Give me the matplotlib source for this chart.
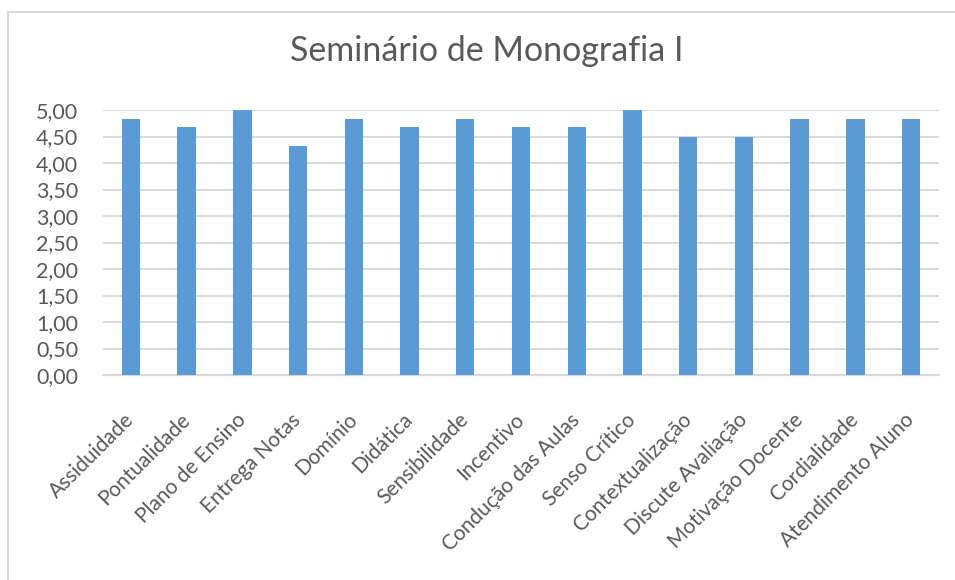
import matplotlib
matplotlib.use("Agg")
import matplotlib.pyplot as plt
from matplotlib.patches import Rectangle
from matplotlib.ticker import FuncFormatter

categorias = ["Assiduidade", "Pontualidade", "Plano de Ensino", "Entrega Notas",
              "Domínio", "Didática", "Sensibilidade", "Incentivo",
              "Condução das Aulas", "Senso Crítico", "Contextualização",
              "Discute Avaliação", "Motivação Docente", "Cordialidade",
              "Atendimento Aluno"]
medias = [4.83, 4.67, 5.00, 4.33, 4.83, 4.67, 4.83, 4.67,
          4.67, 5.00, 4.50, 4.50, 4.83, 4.83, 4.83]
y_ticks = [0.0, 0.5, 1.0, 1.5, 2.0, 2.5, 3.0, 3.5, 4.0, 4.5, 5.0]

plt.rcParams["font.family"] = ["Lato", "DejaVu Sans"]
texto = "#595959"
grade = "#D9D9D9"

fig = plt.figure(figsize=(9.55, 5.8), dpi=100)

# moldura do gráfico (só aparecem as bordas superior e esquerda)
fig.patches.append(Rectangle((8 / 955, -0.05), 1.1, 1 - 12 / 580 + 0.05,
                             transform=fig.transFigure, fill=False,
                             edgecolor=grade, linewidth=1.5))

ax = fig.add_axes([103 / 955, 1 - 375 / 580, 836 / 955, 265 / 580])
x = range(len(categorias))
ax.bar(x, medias, width=0.33, color="#5B9BD5", zorder=3)

ax.set_xlim(-0.5, len(categorias) - 0.5)
ax.set_ylim(0, 5)
ax.set_yticks(y_ticks)
ax.yaxis.set_major_formatter(FuncFormatter(lambda v, p: f"{v:.2f}".replace(".", ",")))
ax.grid(axis="y", color=grade, linewidth=1.4, zorder=0)
ax.tick_params(axis="y", length=0, labelsize=15.5, labelcolor=texto, pad=18)
ax.tick_params(axis="x", length=0, labelsize=15, labelcolor=texto, pad=30)

ax.set_xticks(list(x))
ax.set_xticklabels(categorias, rotation=45, ha="right", va="center",
                   rotation_mode="anchor")

for lado in ["top", "right", "left"]:
    ax.spines[lado].set_visible(False)
ax.spines["bottom"].set_color(grade)
ax.spines["bottom"].set_linewidth(1.6)

fig.text(487 / 955, 1 - 61 / 580, "Seminário de Monografia I", ha="center",
         va="baseline", fontsize=24.5, color=texto)

fig.savefig("out.png", dpi=100)
